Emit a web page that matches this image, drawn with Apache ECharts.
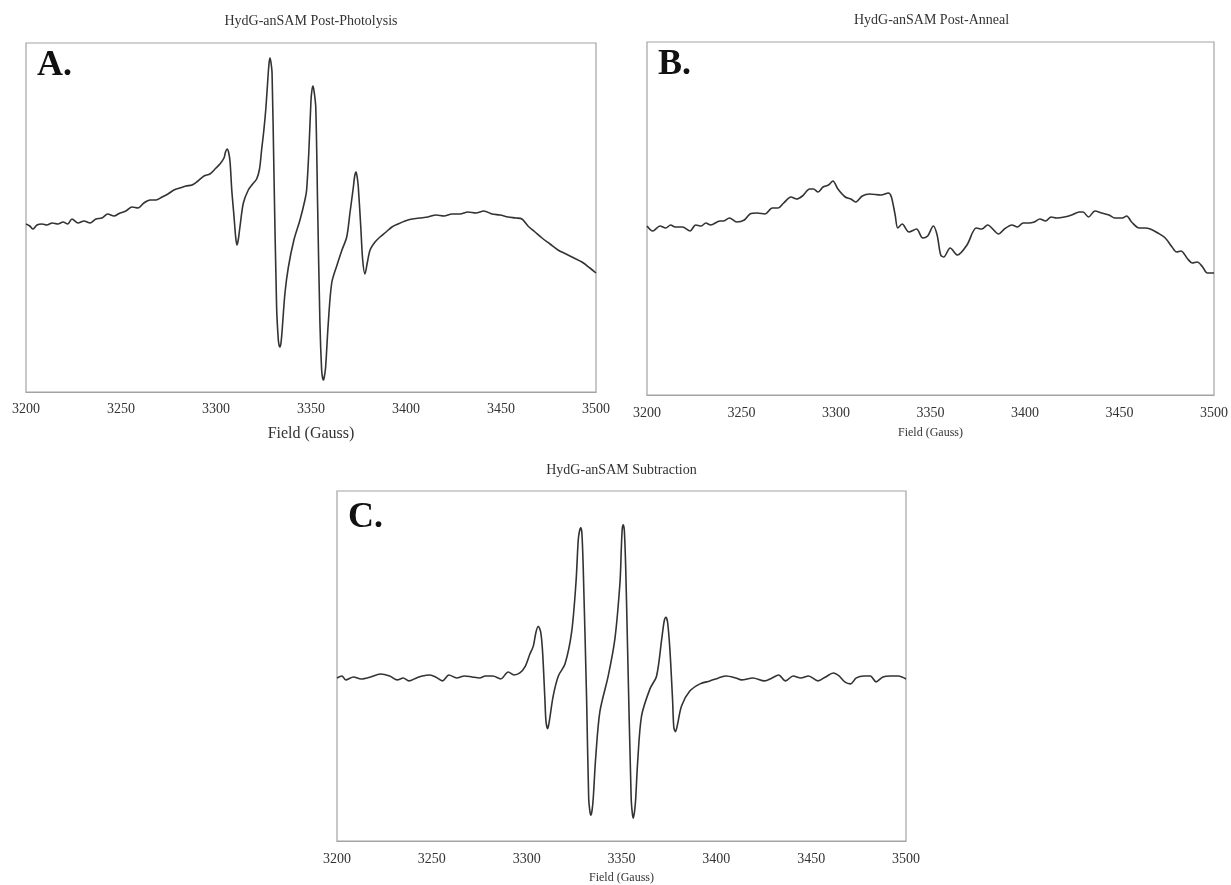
<!DOCTYPE html>
<html>
<head>
<meta charset="utf-8">
<title>HydG-anSAM EPR spectra</title>
<script src="https://cdn.jsdelivr.net/npm/echarts@6/dist/echarts.min.js"></script>
<style>
  html, body { margin: 0; padding: 0; background: #fff; }
  #main { width: 1231px; height: 885px; }
</style>
</head>
<body>
<div id="main"></div>
<script>
// x ticks (Gauss)
const fieldTicks = [3200, 3250, 3300, 3350, 3400, 3450, 3500];

// A. post-photolysis
const fieldA = [3200, 3202, 3203.7, 3205.8, 3208.4, 3211, 3213.7, 3216.8, 3219.5, 3222, 3224.2, 3227.4, 3230.5, 3233.7, 3236.8, 3240, 3243, 3246.3, 3249.5, 3252.6, 3255.8, 3259, 3262, 3265.3, 3268.4, 3271.6, 3274.7, 3277.9, 3281, 3284.2, 3287.4, 3290.5, 3293.7, 3296.8, 3300, 3302.1, 3304.2, 3305, 3305.8, 3306.6, 3307.4, 3308.3, 3309.5, 3310.3, 3311, 3311.7, 3312.6, 3314.4, 3317, 3319.3, 3321.4, 3322.9, 3324, 3325.2, 3326.3, 3327.5, 3328, 3328.4, 3328.9, 3329.5, 3330.5, 3331.9, 3332.8, 3333.3, 3333.7, 3334.2, 3334.7, 3336.3, 3338.1, 3341, 3344.2, 3346.8, 3347.7, 3348.9, 3350, 3350.5, 3351, 3351.6, 3352.5, 3353.5, 3354.7, 3355.6, 3356.1, 3356.5, 3357, 3357.7, 3359.1, 3360.9, 3363.7, 3366.3, 3368.8, 3370.5, 3372.3, 3373, 3373.7, 3374.3, 3374.9, 3376.2, 3377.2, 3378.4, 3379.6, 3381.1, 3383.7, 3386.3, 3389.5, 3392.6, 3395.8, 3399.5, 3403.2, 3407.4, 3411.6, 3415.8, 3420, 3424.2, 3428.4, 3432.6, 3436.8, 3441, 3445.3, 3449.5, 3453.7, 3457.9, 3461, 3464.2, 3467.9, 3471.6, 3475.8, 3480, 3484.2, 3488.4, 3492.6, 3496.8, 3500];
const signalA = [0, -2, -5, -1, 0, -1, 1, 0, 2, 0, 5, 1, 3, 1, 5, 6, 10, 8, 11, 13, 17, 16, 21, 24, 24, 27, 30, 34, 36, 38, 39, 43, 48, 50, 56, 60, 66, 72, 75, 72, 62, 34, 7, -12, -21, -16, -3, 21, 34, 40, 45, 55, 74, 94, 117, 151, 162, 166, 162, 151, 51, -83, -116, -122, -123, -119, -109, -69, -43, -16, 4, 24, 34, 74, 124, 134, 138, 133, 117, 17, -99, -146, -154, -156, -153, -143, -99, -59, -41, -26, -13, 11, 37, 48, 52, 47, 37, -3, -36, -50, -39, -26, -18, -13, -8, -3, 0, 3, 5, 6, 7, 9, 8, 10, 10, 12, 11, 13, 10, 9, 7, 6, 5, -2, -8, -14, -20, -26, -30, -34, -38, -44, -49];

// B. post-anneal
const fieldB = [3200, 3203, 3206.9, 3209.9, 3212.5, 3214.9, 3218.8, 3222.8, 3225.7, 3228.7, 3231.1, 3233.7, 3238.6, 3240.6, 3243.6, 3247.5, 3251.5, 3254.5, 3258.4, 3262.4, 3266.3, 3269.3, 3272.3, 3276.2, 3279.2, 3282.2, 3286.1, 3288.1, 3290.5, 3293.1, 3296, 3298.4, 3301, 3304.9, 3307.9, 3310.3, 3313.9, 3317.8, 3323.8, 3327.7, 3329.3, 3331.3, 3332.7, 3335, 3338.6, 3342.6, 3345.9, 3348.5, 3351.5, 3353.5, 3355.4, 3357, 3360.4, 3364.3, 3369.3, 3374.2, 3377.2, 3380.2, 3386.1, 3389.1, 3393.1, 3396, 3399, 3402, 3404.9, 3407.9, 3410.9, 3413.8, 3416.8, 3420.8, 3424.7, 3428.7, 3430.7, 3433.6, 3437, 3440.6, 3444.5, 3447.5, 3451.5, 3453.8, 3456.4, 3460.4, 3463.3, 3466.3, 3470.3, 3474.2, 3477.8, 3480.2, 3482.5, 3486.1, 3488.5, 3491.1, 3494, 3496.4, 3500];
const signalB = [0, -5, 0, -2, 1, -1, -1, -5, 1, 0, 3, 1, 5, 5, 8, 4, 6, 12, 13, 12, 18, 18, 23, 29, 27, 30, 37, 37, 34, 39, 41, 45, 37, 29, 27, 24, 30, 32, 31, 33, 29, 11, -2, 2, -6, -3, -12, -10, 0, -9, -29, -31, -22, -29, -19, -2, -3, 1, -8, -3, 1, -1, 3, 3, 4, 7, 5, 9, 8, 9, 11, 14, 14, 9, 15, 13, 11, 8, 8, 10, 4, -2, -2, -3, -7, -12, -21, -26, -25, -33, -37, -36, -41, -47, -47];

// C. subtraction
const fieldC = [3200, 3202.6, 3204.6, 3208.7, 3212.7, 3217.7, 3222.8, 3227.8, 3231.8, 3234.9, 3237.9, 3241.9, 3245, 3249, 3252, 3255.6, 3259, 3263.1, 3267.1, 3271.2, 3275.2, 3278.2, 3282.2, 3286.3, 3290.3, 3293.3, 3296.4, 3299.1, 3301.7, 3303.5, 3304.9, 3306.1, 3307.4, 3308.4, 3309.6, 3310.2, 3311.1, 3311.9, 3314, 3316.7, 3320.2, 3323.7, 3326, 3327.2, 3327.9, 3328.5, 3329.1, 3329.8, 3331.6, 3332.7, 3333.4, 3333.9, 3334.5, 3335.1, 3336.4, 3338.6, 3343, 3346.5, 3349.2, 3349.9, 3350.4, 3350.9, 3351.5, 3352.2, 3353.2, 3355.1, 3355.7, 3356.2, 3356.9, 3357.5, 3358.5, 3360.6, 3365, 3368.5, 3371.2, 3372.5, 3373.4, 3374.3, 3375.5, 3376.9, 3377.6, 3378.5, 3379.4, 3381.7, 3386.1, 3391.4, 3396.6, 3401.2, 3405.2, 3410.2, 3413.3, 3419.3, 3425.4, 3429.4, 3432.8, 3436.5, 3440.5, 3444.5, 3448.6, 3453.6, 3457.6, 3461.7, 3464.7, 3467.7, 3470.7, 3473.8, 3477.8, 3481.2, 3484.2, 3487.8, 3491.9, 3495.9, 3500];
const signalC = [0, 2, -2, 1, -1, 1, 4, 2, -2, 0, -3, 0, 2, 3, 1, -3, 3, 0, 2, 1, 0, 2, 2, -1, 6, 3, 5, 11, 24, 32, 46, 52, 46, 26, -21, -44, -51, -44, -18, 2, 14, 46, 96, 139, 148, 151, 146, 112, -21, -121, -135, -138, -133, -121, -80, -34, 2, 39, 96, 130, 150, 154, 148, 112, 30, -121, -136, -141, -134, -121, -85, -38, -11, 2, 39, 57, 61, 56, 29, -21, -50, -54, -48, -28, -13, -6, -3, 0, 2, 0, -2, 0, -3, 0, 3, -3, 2, 0, 2, -3, 1, 5, 2, -4, -6, 0, 2, 2, -4, 1, 2, 2, -1];

const titles = ['HydG-anSAM Post-Photolysis', 'HydG-anSAM Post-Anneal', 'HydG-anSAM Subtraction'];
const letters = ['A.', 'B.', 'C.'];
const axisName = 'Field (Gauss)';

const serif = "'Liberation Serif', 'Times New Roman', serif";
const lineColor = '#333';
const boxColor = '#a3a3a3';

// panel layout (px) and y ranges
const panels = [
  { x: fieldA, y: signalA, left: 26, top: 43, width: 570, height: 349, ymin: -168, ymax: 181, nameSize: 16, nameGap: 34, labelMargin: 10 },
  { x: fieldB, y: signalB, left: 647, top: 42, width: 569, height: 353, ymin: -169, ymax: 184, nameSize: 12, nameGap: 32, labelMargin: 11 },
  { x: fieldC, y: signalC, left: 337, top: 491, width: 569, height: 352, ymin: -164, ymax: 188, nameSize: 12, nameGap: 31, labelMargin: 11 }
];

const chart = echarts.init(document.getElementById('main'), null, { renderer: 'canvas' });

const option = {
  backgroundColor: '#fff',
  animation: false,
  grid: panels.map(p => ({
    left: p.left, top: p.top, width: p.width, height: p.height,
    show: true, borderColor: boxColor, borderWidth: 1.2, backgroundColor: '#fff'
  })),
  xAxis: panels.map((p, i) => ({
    type: 'value',
    gridIndex: i,
    min: fieldTicks[0],
    max: fieldTicks[fieldTicks.length - 1],
    interval: fieldTicks[1] - fieldTicks[0],
    name: axisName,
    nameLocation: 'middle',
    nameGap: p.nameGap,
    nameTextStyle: { fontFamily: serif, fontSize: p.nameSize, color: '#333' },
    axisLine: { show: true, onZero: false, lineStyle: { color: boxColor, width: 1.2 } },
    axisTick: { show: false },
    splitLine: { show: false },
    axisLabel: {
      margin: p.labelMargin,
      fontFamily: serif, fontSize: 14, color: '#333',
      showMinLabel: true, showMaxLabel: true,
      formatter: v => String(v)
    }
  })),
  yAxis: panels.map((p, i) => ({
    type: 'value',
    gridIndex: i,
    min: p.ymin,
    max: p.ymax,
    axisLine: { show: false },
    axisTick: { show: false },
    axisLabel: { show: false },
    splitLine: { show: false }
  })),
  series: panels.map((p, i) => ({
    type: 'line',
    xAxisIndex: i,
    yAxisIndex: i,
    data: p.x.map((g, k) => [g, p.y[k]]),
    showSymbol: false,
    smooth: 0.3,
    lineStyle: { color: lineColor, width: 1.6 },
    silent: true
  })),
  graphic: [
    ...panels.map((p, i) => ({
      type: 'text',
      x: p.left + p.width / 2,
      y: p.top - (i === 2 ? 21 : 22),
      style: {
        text: titles[i], font: '14px ' + serif, fill: '#333',
        textAlign: 'center', textVerticalAlign: 'middle', align: 'center', verticalAlign: 'middle'
      }
    })),
    ...panels.map((p, i) => ({
      type: 'text',
      x: p.left + (i === 2 ? 11 : 11),
      y: p.top + (i === 2 ? 27 : 23),
      style: {
        text: letters[i], font: 'bold 36px ' + serif, fill: '#111',
        textAlign: 'left', textVerticalAlign: 'middle', align: 'left', verticalAlign: 'middle'
      }
    }))
  ]
};

chart.setOption(option);

window.addEventListener('resize', () => {
  chart.resize();
});
</script>
</body>
</html>
